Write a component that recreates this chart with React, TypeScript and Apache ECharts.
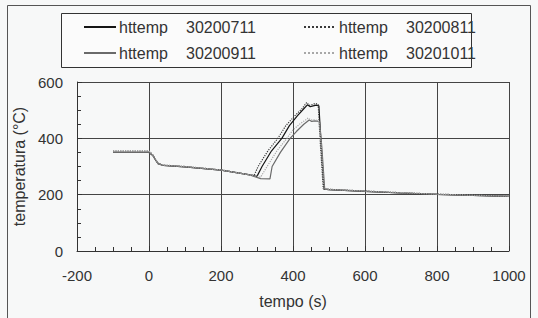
import React, { useEffect, useRef } from "react";
import * as echarts from "echarts";

const seriesNames = ["30200711", "30200811", "30200911", "30201011"];

const timeA = [-100, 0, 10, 25, 40, 100, 200, 280, 292, 303, 330, 358, 380, 405, 425, 438, 445, 455, 462, 470, 476, 484, 500, 600, 700, 800, 900, 1000];
const tempA = [355, 355, 342, 312, 305, 300, 288, 271, 268, 300, 355, 400, 445, 480, 505, 527, 517, 520, 524, 520, 380, 221, 219, 213, 207, 202, 198, 195];

const timeB = [-100, 0, 10, 25, 40, 100, 200, 280, 300, 314, 340, 369, 390, 412, 430, 440, 448, 456, 465, 472, 478, 486, 500, 600, 700, 800, 900, 1000];
const tempB = [350, 350, 340, 310, 304, 299, 287, 270, 265, 300, 355, 400, 445, 480, 505, 519, 512, 515, 518, 515, 380, 220, 218, 212, 206, 201, 197, 194];

const timeC = [-100, 0, 10, 25, 40, 100, 200, 280, 310, 328, 355, 383, 400, 420, 435, 442, 450, 458, 466, 472, 478, 486, 500, 600, 700, 800, 900, 1000];
const tempC = [355, 355, 342, 312, 305, 300, 288, 270, 262, 300, 355, 400, 430, 452, 465, 472, 465, 466, 464, 460, 380, 222, 219, 213, 207, 202, 198, 195];

const timeD = [-100, 0, 10, 25, 40, 100, 200, 280, 310, 336, 342, 365, 392, 410, 430, 445, 452, 460, 468, 474, 480, 488, 500, 600, 700, 800, 900, 1000];
const tempD = [350, 350, 340, 310, 304, 299, 287, 270, 257, 256, 300, 350, 400, 425, 450, 465, 460, 462, 461, 458, 370, 220, 218, 212, 206, 201, 197, 194];

const seriesTimes = [timeB, timeA, timeD, timeC];
const seriesTemps = [tempB, tempA, tempD, tempC];
const seriesColors = ["#151515", "#3a3a3a", "#6a6a6a", "#a8a8a8"];
const seriesTypes = ["solid", "dotted", "solid", "dotted"];

const xTicks = { min: -200, max: 1000, interval: 200 };
const yTicks = { min: 0, max: 600, interval: 200 };

const FONT = "Liberation Sans, Arial, sans-serif";

export default function App() {
  const ref = useRef<HTMLDivElement>(null);
  useEffect(() => {
    if (!ref.current) return;
    const chart = echarts.init(ref.current, null, { renderer: "svg" });
    const legendPos = [
      { left: 83, top: 19 },
      { left: 303, top: 19 },
      { left: 83, top: 45 },
      { left: 303, top: 45 },
    ];
    chart.setOption({
      animation: false,
      backgroundColor: "#f7f8f8",
      textStyle: { fontFamily: FONT },
      graphic: [
        {
          type: "rect",
          shape: { x: 7.5, y: 5.5, width: 523, height: 320 },
          style: { fill: "none", stroke: "#555", lineWidth: 1 },
          silent: true,
        },
        {
          type: "rect",
          shape: { x: 61.5, y: 13.5, width: 410, height: 54 },
          style: { fill: "#fbfbfb", stroke: "#333", lineWidth: 1 },
          silent: true,
          z: -1,
        },
      ],
      legend: seriesNames.map((n, i) => ({
        data: [n],
        left: legendPos[i].left,
        top: legendPos[i].top,
        itemWidth: 32,
        itemHeight: 16,
        itemGap: 0,
        padding: 0,
        selectedMode: false,
        itemStyle: { opacity: 0 },
        formatter: (name: string) => `{a|httemp}{b|${name}}`,
        textStyle: {
          fontSize: 16,
          color: "#333",
          fontFamily: FONT,
          padding: [0, 0, 0, -2],
          rich: {
            a: { width: 67, fontSize: 16, color: "#333", fontFamily: FONT },
            b: { fontSize: 16, color: "#333", fontFamily: FONT },
          },
        },
      })),
      grid: { left: 77, right: 29, top: 82, bottom: 67 },
      xAxis: {
        type: "value",
        ...xTicks,
        name: "tempo (s)",
        nameLocation: "middle",
        nameGap: 42,
        nameTextStyle: { fontSize: 16, color: "#333", fontFamily: FONT },
        axisLine: { show: true, onZero: false, lineStyle: { color: "#333", width: 1 } },
        axisTick: { show: true, inside: true, length: 5, lineStyle: { color: "#333" } },
        minorTick: { show: true, splitNumber: 4, length: 4, lineStyle: { color: "#333" } },
        axisLabel: {
          fontSize: 15,
          color: "#333",
          margin: 17,
          fontFamily: FONT,
          formatter: (v: number) => String(v),
        },
        splitLine: { show: true, lineStyle: { color: "#444", width: 1 } },
      },
      yAxis: {
        type: "value",
        ...yTicks,
        name: "temperatura (°C)",
        nameLocation: "middle",
        nameGap: 48,
        nameTextStyle: { fontSize: 16, color: "#333", fontFamily: FONT },
        axisLine: { show: true, onZero: false, lineStyle: { color: "#333", width: 1 } },
        axisTick: { show: true, inside: true, length: 5, lineStyle: { color: "#333" } },
        minorTick: { show: true, splitNumber: 4, length: 4, lineStyle: { color: "#333" } },
        axisLabel: {
          fontSize: 15,
          color: "#333",
          margin: 14,
          fontFamily: FONT,
          formatter: (v: number) => String(v),
        },
        splitLine: { show: true, lineStyle: { color: "#444", width: 1 } },
      },
      series: seriesNames.map((n, i) => ({
        name: n,
        type: "line",
        symbol: "none",
        showSymbol: false,
        data: seriesTimes[i].map((t, j) => [t, seriesTemps[i][j]]),
        lineStyle: { color: seriesColors[i], width: 1.2, type: seriesTypes[i] },
        itemStyle: { color: seriesColors[i] },
        z: 3 + i,
      })),
    });
    return () => chart.dispose();
  }, []);
  return (
    <div
      ref={ref}
      style={{ position: "fixed", left: 0, top: 0, width: 538, height: 318 }}
    />
  );
}
